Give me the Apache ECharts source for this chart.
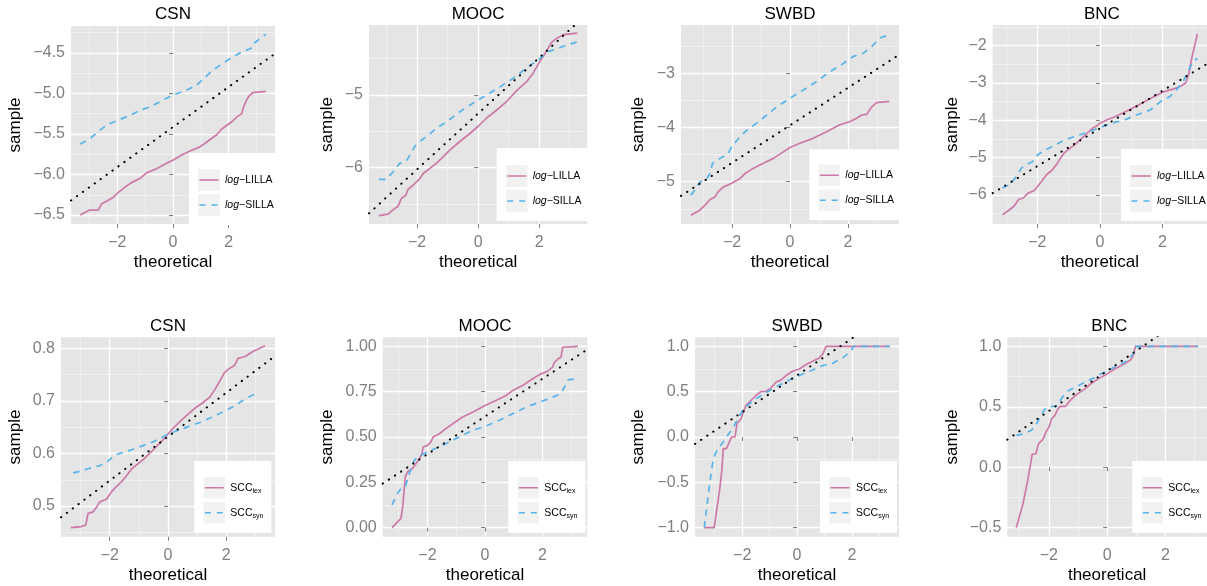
<!DOCTYPE html>
<html><head><meta charset="utf-8">
<script src="https://cdn.jsdelivr.net/npm/echarts/dist/echarts.min.js"></script>
<style>html,body{margin:0;padding:0;background:#fff}#c{width:1207px;height:586px}</style>
</head><body><div id="c"></div>
<script>
// ---------------- DATA ----------------
const panelTitles = ['CSN', 'MOOC', 'SWBD', 'BNC', 'CSN', 'MOOC', 'SWBD', 'BNC'];
const topSeriesNames = ['log-LILLA', 'log-SILLA'];
const bottomSeriesNames = ['SCC_lex', 'SCC_syn'];
const xTicks = [-2, 0, 2];

// Row 1: log-LILLA / log-SILLA  ([theoretical, sample])
const csnLogLilla = [[-3.33,-6.50],[-3.01,-6.44],[-2.68,-6.44],[-2.56,-6.36],[-2.38,-6.33],[-2.14,-6.28],[-1.96,-6.22],[-1.78,-6.17],[-1.49,-6.10],[-1.19,-6.05],[-0.95,-5.98],[-0.59,-5.93],[-0.23,-5.86],[0.01,-5.82],[0.31,-5.76],[0.61,-5.71],[0.97,-5.66],[1.21,-5.60],[1.57,-5.51],[1.75,-5.44],[2.11,-5.35],[2.29,-5.29],[2.47,-5.25],[2.53,-5.17],[2.62,-5.10],[2.71,-5.04],[2.86,-4.99],[3.33,-4.975]];
const csnLogSilla = [[-3.33,-5.625],[-2.98,-5.56],[-2.68,-5.47],[-2.38,-5.39],[-1.96,-5.33],[-1.54,-5.27],[-1.19,-5.21],[-0.77,-5.16],[-0.35,-5.08],[0.01,-5.02],[0.49,-4.96],[0.85,-4.90],[1.09,-4.82],[1.45,-4.71],[2.05,-4.57],[2.47,-4.49],[2.77,-4.45],[2.87,-4.43],[2.92,-4.38],[3.33,-4.27]];
const csnLogQQ = [[-3.66,-6.32],[3.66,-4.51]];

const moocLogLilla = [[-3.25,-6.66],[-2.95,-6.64],[-2.79,-6.58],[-2.62,-6.53],[-2.51,-6.42],[-2.37,-6.38],[-2.30,-6.30],[-2.13,-6.24],[-1.91,-6.15],[-1.80,-6.08],[-1.58,-6.01],[-1.37,-5.94],[-1.15,-5.85],[-0.93,-5.76],[-0.60,-5.64],[-0.27,-5.53],[0.0,-5.43],[0.27,-5.32],[0.60,-5.21],[0.93,-5.09],[1.26,-4.94],[1.58,-4.82],[1.80,-4.70],[2.02,-4.54],[2.19,-4.43],[2.40,-4.28],[2.57,-4.22],[2.79,-4.17],[3.25,-4.15]];
const moocLogSilla = [[-3.25,-6.16],[-3.01,-6.16],[-2.79,-6.06],[-2.57,-5.94],[-2.37,-5.92],[-2.24,-5.83],[-2.08,-5.71],[-1.91,-5.64],[-1.69,-5.57],[-1.37,-5.46],[-1.04,-5.37],[-0.60,-5.23],[-0.16,-5.11],[0.27,-5.00],[0.71,-4.89],[1.15,-4.77],[1.58,-4.63],[2.02,-4.50],[2.30,-4.40],[2.57,-4.37],[2.90,-4.31],[3.25,-4.27]];
const moocLogQQ = [[-3.575,-6.628],[3.575,-3.882]];

const swbdLogLilla = [[-3.42,-5.62],[-3.10,-5.52],[-2.93,-5.43],[-2.76,-5.33],[-2.59,-5.28],[-2.47,-5.18],[-2.30,-5.10],[-2.01,-5.03],[-1.72,-4.94],[-1.55,-4.85],[-1.26,-4.75],[-0.92,-4.66],[-0.57,-4.57],[-0.23,-4.45],[0.0,-4.37],[0.34,-4.29],[0.80,-4.20],[1.26,-4.08],[1.72,-3.95],[2.07,-3.89],[2.30,-3.83],[2.47,-3.77],[2.64,-3.76],[2.82,-3.62],[2.99,-3.54],[3.42,-3.52]];
const swbdLogSilla = [[-3.42,-5.25],[-3.28,-5.15],[-3.10,-5.00],[-2.90,-4.97],[-2.76,-4.85],[-2.67,-4.66],[-2.41,-4.57],[-2.13,-4.48],[-2.01,-4.35],[-1.72,-4.17],[-1.49,-4.05],[-1.15,-3.92],[-0.80,-3.77],[-0.46,-3.62],[0.0,-3.46],[0.46,-3.31],[0.92,-3.15],[1.38,-2.97],[1.84,-2.82],[2.18,-2.69],[2.53,-2.63],[2.82,-2.51],[3.10,-2.35],[3.42,-2.29]];
const swbdLogQQ = [[-3.76,-5.261],[3.76,-2.659]];

const bncLogLilla = [[-3.12,-6.53],[-2.9,-6.4],[-2.75,-6.3],[-2.6,-6.12],[-2.45,-6.08],[-2.3,-5.95],[-2.1,-5.88],[-2.0,-5.78],[-1.85,-5.62],[-1.7,-5.45],[-1.55,-5.35],[-1.4,-5.2],[-1.25,-5.0],[-1.15,-4.88],[-1.0,-4.78],[-0.8,-4.65],[-0.6,-4.5],[-0.45,-4.38],[-0.25,-4.22],[-0.1,-4.15],[0.0,-4.08],[0.2,-4.0],[0.5,-3.9],[0.8,-3.78],[1.1,-3.65],[1.4,-3.52],[1.7,-3.38],[2.0,-3.25],[2.2,-3.2],[2.4,-3.15],[2.6,-3.08],[2.75,-3.0],[2.85,-2.75],[2.95,-2.3],[3.05,-1.95],[3.12,-1.69]];
const bncLogSilla = [[-3.12,-5.81],[-2.88,-5.72],[-2.67,-5.50],[-2.51,-5.28],[-2.36,-5.19],[-2.15,-5.10],[-1.99,-4.92],[-1.73,-4.79],[-1.41,-4.65],[-1.10,-4.52],[-0.79,-4.43],[-0.47,-4.34],[-0.05,-4.21],[0.37,-4.08],[0.79,-3.99],[1.20,-3.85],[1.62,-3.72],[1.94,-3.50],[2.25,-3.36],[2.46,-3.18],[2.67,-2.96],[2.83,-2.69],[2.98,-2.43],[3.12,-2.34]];
const bncLogQQ = [[-3.43,-5.949],[3.43,-2.491]];

// Row 2: SCC_lex / SCC_syn
const csnSccLex = [[-3.33,0.459],[-2.97,0.461],[-2.82,0.464],[-2.74,0.486],[-2.57,0.489],[-2.46,0.497],[-2.34,0.508],[-2.11,0.513],[-1.94,0.527],[-1.77,0.537],[-1.60,0.546],[-1.43,0.557],[-1.26,0.570],[-1.09,0.578],[-0.86,0.588],[-0.63,0.600],[-0.40,0.613],[-0.17,0.626],[0.0,0.637],[0.17,0.648],[0.40,0.660],[0.63,0.672],[0.92,0.686],[1.20,0.697],[1.43,0.707],[1.60,0.721],[1.77,0.737],[1.94,0.754],[2.06,0.760],[2.29,0.768],[2.40,0.781],[2.63,0.784],[2.91,0.794],[3.33,0.805]];
const csnSccSyn = [[-3.25,0.563],[-2.97,0.567],[-2.69,0.572],[-2.34,0.577],[-2.11,0.583],[-1.94,0.591],[-1.83,0.597],[-1.54,0.602],[-1.20,0.608],[-0.86,0.615],[-0.51,0.622],[-0.17,0.632],[0.06,0.638],[0.40,0.645],[0.74,0.652],[1.09,0.659],[1.43,0.667],[1.77,0.676],[2.06,0.684],[2.34,0.692],[2.51,0.699],[2.89,0.711],[3.14,0.714]];
const csnSccQQ = [[-3.67,0.4786],[3.67,0.7854]];

const moocSccLex = [[-3.23,0.0],[-2.92,0.051],[-2.86,0.115],[-2.77,0.280],[-2.69,0.308],[-2.52,0.326],[-2.40,0.353],[-2.28,0.381],[-2.19,0.408],[-2.15,0.445],[-2.0,0.454],[-1.88,0.473],[-1.80,0.500],[-1.59,0.518],[-1.36,0.546],[-1.12,0.573],[-0.78,0.610],[-0.43,0.637],[0.0,0.674],[0.38,0.701],[0.73,0.729],[0.96,0.756],[1.31,0.784],[1.66,0.821],[1.89,0.844],[2.18,0.863],[2.35,0.885],[2.41,0.912],[2.53,0.930],[2.64,0.940],[2.70,0.995],[3.23,1.0]];
const moocSccSyn = [[-3.23,0.125],[-3.04,0.189],[-2.92,0.216],[-2.77,0.225],[-2.63,0.298],[-2.46,0.372],[-2.28,0.394],[-2.0,0.418],[-1.59,0.445],[-1.12,0.482],[-0.78,0.509],[-0.43,0.537],[0.0,0.559],[0.50,0.592],[0.96,0.628],[1.43,0.665],[1.89,0.692],[2.35,0.720],[2.64,0.738],[2.76,0.775],[2.88,0.815],[3.15,0.821]];
const moocSccQQ = [[-3.555,0.243],[3.555,0.983]];

const swbdSccLex = [[-3.38,-1.0],[-3.02,-1.0],[-2.93,-0.806],[-2.83,-0.604],[-2.74,-0.366],[-2.69,-0.128],[-2.57,-0.128],[-2.47,-0.055],[-2.38,0.0],[-2.26,0.0],[-2.19,0.147],[-2.04,0.201],[-1.96,0.275],[-1.86,0.348],[-1.68,0.403],[-1.50,0.458],[-1.31,0.502],[-1.13,0.502],[-0.95,0.542],[-0.77,0.604],[-0.58,0.630],[-0.40,0.678],[-0.16,0.725],[0.09,0.751],[0.33,0.799],[0.57,0.835],[0.81,0.872],[0.94,0.916],[1.06,1.0],[3.38,1.0]];
const swbdSccSyn = [[-3.38,-1.0],[-3.32,-0.843],[-3.20,-0.549],[-3.08,-0.293],[-2.98,-0.183],[-2.83,-0.110],[-2.69,-0.055],[-2.53,0.018],[-2.35,0.092],[-2.16,0.201],[-1.98,0.293],[-1.74,0.366],[-1.50,0.421],[-1.25,0.469],[-0.89,0.531],[-0.52,0.593],[-0.16,0.648],[0.21,0.696],[0.57,0.740],[0.94,0.788],[1.30,0.813],[1.67,0.872],[1.99,0.952],[2.05,1.0],[3.38,1.0]];
const swbdSccQQ = [[-3.72,-0.0767],[3.72,1.4367]];

const bncSccLex = [[-3.11,-0.5],[-2.88,-0.30],[-2.72,-0.107],[-2.60,0.058],[-2.57,0.107],[-2.44,0.113],[-2.35,0.195],[-2.23,0.223],[-2.16,0.25],[-2.10,0.291],[-1.99,0.332],[-1.90,0.401],[-1.79,0.429],[-1.68,0.484],[-1.60,0.503],[-1.43,0.503],[-1.32,0.538],[-1.15,0.580],[-0.98,0.613],[-0.76,0.648],[-0.54,0.695],[-0.31,0.731],[0.0,0.772],[0.25,0.813],[0.58,0.854],[0.80,0.887],[0.89,0.923],[0.97,1.0],[3.11,1.0]];
const bncSccSyn = [[-3.11,0.264],[-2.83,0.277],[-2.60,0.305],[-2.44,0.346],[-2.30,0.415],[-2.12,0.484],[-1.99,0.503],[-1.77,0.503],[-1.65,0.538],[-1.49,0.593],[-1.32,0.635],[-1.09,0.662],[-0.76,0.703],[-0.42,0.744],[0.0,0.799],[0.36,0.841],[0.69,0.882],[0.89,0.937],[0.97,1.0],[3.11,1.0]];
const bncSccQQ = [[-3.42,0.2283],[3.42,1.3657]];

// axis ranges & tick labels per panel
const xLimits = [3.66, 3.575, 3.76, 3.43, 3.67, 3.555, 3.72, 3.42];
const yLimits = [[-6.61,-4.17],[-6.775,-4.037],[-5.78,-2.11],[-6.775,-1.45],[0.4417,0.821],[-0.05,1.05],[-1.1,1.1],[-0.575,1.075]];
const yTickValues = [[-6.5,-6,-5.5,-5,-4.5],[-6,-5],[-5,-4,-3],[-6,-5,-4,-3,-2],[0.5,0.6,0.7,0.8],[0,0.25,0.5,0.75,1],[-1,-0.5,0,0.5,1],[-0.5,0,0.5,1]];
const yTickDecimals = [1,0,0,0,1,2,1,1];

// ---------------- LAYOUT / STYLE ----------------
const panelData = [
  [csnLogLilla, csnLogSilla, csnLogQQ], [moocLogLilla, moocLogSilla, moocLogQQ],
  [swbdLogLilla, swbdLogSilla, swbdLogQQ], [bncLogLilla, bncLogSilla, bncLogQQ],
  [csnSccLex, csnSccSyn, csnSccQQ], [moocSccLex, moocSccSyn, moocSccQQ],
  [swbdSccLex, swbdSccSyn, swbdSccQQ], [bncSccLex, bncSccSyn, bncSccQQ]
];
// grid [left, top, width, height]
const gridBoxes = [[71,26,204,198],[369,25,218.3,199],[681,25,218,199],[992.7,25,218.3,199],
                   [61,337.3,214,199.4],[382.7,337.3,204.6,199.4],[695,337.3,204,199.4],[1007.3,337.3,204,199.4]];
const legendBoxes = [[189,153,16],[496.7,148,17],[809.3,149.3,15],[1121,149,16],
                     [194.3,461,15.7],[508.3,461,15.7],[820,461,15.7],[1132.3,461,15.7]];
const sampleCenters = [15, 327, 638.5, 952];

const FONT = "'Liberation Sans', Arial, Helvetica, sans-serif";
const PINK = '#CC79A7', BLUE = '#56B4E9';
const DASH = [6.5, 5.5];

function fmtNum(v, d) {
  const s = Math.abs(v).toFixed(d);
  return (v < -1e-9 ? '\u2212' : '') + s;
}
function minorOf(ticks, lo, hi) {
  const step = ticks.length > 1 ? ticks[1] - ticks[0] : 1;
  const out = [];
  for (let v = ticks[0] - step / 2; v < hi; v += step) {
    if (v > lo) out.push(Math.round(v * 1e6) / 1e6);
  }
  return out;
}
function keyIcon(color, dash) {
  const svg = '<svg xmlns="http://www.w3.org/2000/svg" width="22" height="22">' +
    '<rect width="22" height="22" fill="#F2F2F2"/>' +
    '<line x1="1.5" y1="11" x2="20.5" y2="11" stroke="' + color + '" stroke-width="1.6"' +
    (dash ? ' stroke-dasharray="' + dash + '"' : '') + '/></svg>';
  return 'image://data:image/svg+xml;charset=utf-8,' + encodeURIComponent(svg);
}
const legendLabels = {
  'log-LILLA': '{i|log}{n|\u2212LILLA}',
  'log-SILLA': '{i|log}{n|\u2212SILLA}',
  'SCC_lex': '{n|SCC}{s|lex}',
  'SCC_syn': '{n|SCC}{s|syn}'
};

const option = { animation: false, backgroundColor: '#fff', title: [], grid: [], xAxis: [], yAxis: [], legend: [], series: [] };

panelData.forEach((pd, i) => {
  const g = gridBoxes[i];
  const row = i < 4 ? 0 : 1;
  const names = row === 0 ? topSeriesNames : bottomSeriesNames;
  const xr = xLimits[i], yr = yLimits[i], yt = yTickValues[i], dec = yTickDecimals[i];

  option.grid.push({ left: g[0], top: g[1], width: g[2], height: g[3], show: true, backgroundColor: '#E5E5E5', borderWidth: 0, containLabel: false });
  option.title.push({ text: panelTitles[i], left: g[0] + g[2] / 2, top: row === 0 ? 5.5 : 317.5, textAlign: 'center', padding: 0,
    textStyle: { fontFamily: FONT, fontSize: 17, fontWeight: 'normal', color: '#000' } });

  // main x axis
  option.xAxis.push({ gridIndex: i, type: 'value', min: -xr, max: xr, position: 'bottom',
    axisLine: { show: false },
    axisTick: { show: true, customValues: xTicks, length: 4, lineStyle: { color: '#7F7F7F', width: 1 } },
    axisLabel: { customValues: xTicks, formatter: v => fmtNum(v, 0), color: '#7F7F7F', fontSize: 16, fontFamily: FONT, margin: 11 },
    splitLine: { show: true, lineStyle: { color: '#FFFFFF', width: 1.3 } },
    name: 'theoretical', nameLocation: 'middle', nameGap: row === 0 ? 29.5 : 30,
    nameTextStyle: { fontFamily: FONT, fontSize: 17, color: '#000' } });
  // minor x grid
  option.xAxis.push({ gridIndex: i, type: 'value', min: -xr, max: xr, position: 'top',
    axisLine: { show: false }, axisTick: { show: false, customValues: minorOf(xTicks, -xr, xr) }, axisLabel: { show: false },
    splitLine: { show: true, lineStyle: { color: '#F2F2F2', width: 0.8 } } });

  // main y axis
  option.yAxis.push({ gridIndex: i, type: 'value', min: yr[0], max: yr[1], position: 'left',
    axisLine: { show: false },
    axisTick: { show: true, customValues: yt, length: 4, lineStyle: { color: '#7F7F7F', width: 1 } },
    axisLabel: { customValues: yt, formatter: v => fmtNum(v, dec), color: '#7F7F7F', fontSize: 16, fontFamily: FONT, margin: 6 },
    splitLine: { show: true, lineStyle: { color: '#FFFFFF', width: 1.3 } },
    name: 'sample', nameLocation: 'middle', nameRotate: 90,
    nameGap: g[0] - sampleCenters[i % 4] - 8.5,
    nameTextStyle: { fontFamily: FONT, fontSize: 17, color: '#000' } });
  // minor y grid
  option.yAxis.push({ gridIndex: i, type: 'value', min: yr[0], max: yr[1], position: 'right',
    axisLine: { show: false }, axisTick: { show: false, customValues: minorOf(yt, yr[0], yr[1]) }, axisLabel: { show: false },
    splitLine: { show: true, lineStyle: { color: '#F2F2F2', width: 0.8 } } });

  const xi = 2 * i, yi = 2 * i;
  option.series.push({ type: 'line', name: names[0], xAxisIndex: xi, yAxisIndex: yi, data: pd[0], showSymbol: false, symbol: 'none',
    lineStyle: { color: PINK, width: 1.7 }, itemStyle: { color: PINK }, z: 2, silent: true });
  option.series.push({ type: 'line', name: names[1], xAxisIndex: xi, yAxisIndex: yi, data: pd[1], showSymbol: false, symbol: 'none',
    lineStyle: { color: BLUE, width: 1.7, type: DASH }, itemStyle: { color: BLUE }, z: 2, silent: true });
  option.series.push({ type: 'line', xAxisIndex: xi, yAxisIndex: yi, data: pd[2], showSymbol: false, symbol: 'none', clip: true,
    lineStyle: { color: '#000', width: 2, type: [0.3, 7], cap: 'round' }, z: 3, silent: true });

  const lb = legendBoxes[i];
  option.legend.push({
    data: [{ name: names[0], icon: keyIcon(PINK, null) }, { name: names[1], icon: keyIcon(BLUE, '6,6') }],
    orient: 'vertical', left: lb[0], top: lb[1], padding: [lb[2], 8, 9, 9], itemGap: 3, itemWidth: 22, itemHeight: 22,
    backgroundColor: '#FFFFFF', borderWidth: 0, selectedMode: false,
    formatter: n => legendLabels[n],
    textStyle: { fontFamily: FONT, fontSize: 10.5, color: '#000',
      rich: {
        i: { fontFamily: FONT, fontSize: 10.5, fontStyle: 'italic', color: '#000' },
        n: { fontFamily: FONT, fontSize: 10.5, color: '#000', lineHeight: 14 },
        s: { fontFamily: FONT, fontSize: 7, color: '#000', lineHeight: 7, verticalAlign: 'bottom' }
      } }
  });
});

const chart = echarts.init(document.getElementById('c'), null, { renderer: 'canvas' });
chart.setOption(option);
</script></body></html>
